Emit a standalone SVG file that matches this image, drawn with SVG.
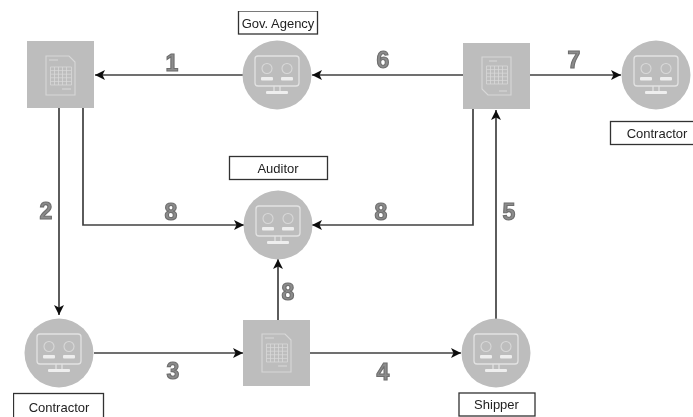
<svg xmlns="http://www.w3.org/2000/svg" width="693" height="417" viewBox="0 0 693 417">
<style>
text{font-family:"Liberation Sans",Arial,sans-serif}
.c{fill:none;stroke:#404040;stroke-width:1.7}
.b{fill:#fff;stroke:#333;stroke-width:1.3}
.l{font-size:13px;fill:#222;text-anchor:middle}
.n{font-size:23px;font-weight:bold;fill:#8c8c8c;stroke:#6e6e6e;stroke-width:1.1;text-anchor:middle}
.i{fill:none;stroke:#e2e2e2;stroke-width:1.3}
.d{fill:none;stroke:#d8d8d8;stroke-width:1.1}
.f{fill:#eee}
.g{fill:#bdbdbd}
</style>
<defs>
<filter id="soft" x="0" y="0" width="100%" height="100%"><feGaussianBlur stdDeviation="0.45"/></filter>
<marker id="a" markerWidth="11" markerHeight="10" refX="10" refY="5" orient="auto" markerUnits="userSpaceOnUse"><path d="M0 0L10 5L0 10L2.500 5Z" fill="#111"/></marker>
<g id="pc">
<circle r="34.500" class="g"/>
<rect x="-22" y="-19" width="44" height="30" rx="3" class="i"/>
<circle cx="-10" cy="-6.500" r="5" class="d"/>
<circle cx="10" cy="-6.500" r="5" class="d"/>
<rect x="-16" y="2" width="12" height="3.500" rx="1" class="f"/>
<rect x="4" y="2" width="12" height="3.500" rx="1" class="f"/>
<path d="M-3 11V16M3 11V16" class="i"/>
<rect x="-11" y="16" width="22" height="3" rx="1" class="f"/>
</g>
<g id="grid" fill="none" stroke="#d8d8d8" stroke-width=".8">
<path d="M-10 -9H11V9H-10ZM-10 -5.400H11M-10 -1.800H11M-10 1.800H11M-10 5.400H11M-6 -9V9M-2 -9V9M2 -9V9M6 -9V9"/>
</g>
</defs>
<rect width="693" height="417" fill="#fff"/>
<g filter="url(#soft)">
<g id="connectors">
<path class="c" d="M245 75H95" marker-end="url(#a)"/>
<path class="c" d="M463 75H312" marker-end="url(#a)"/>
<path class="c" d="M530 75H621" marker-end="url(#a)"/>
<path class="c" d="M59 108V315" marker-end="url(#a)"/>
<path class="c" d="M83 108V225H244" marker-end="url(#a)"/>
<path class="c" d="M473 109V225H312" marker-end="url(#a)"/>
<path class="c" d="M496 319V110" marker-end="url(#a)"/>
<path class="c" d="M94 353H243" marker-end="url(#a)"/>
<path class="c" d="M310 353H461" marker-end="url(#a)"/>
<path class="c" d="M278 320V259" marker-end="url(#a)"/>
</g>
<g id="doc-top-left">
<rect x="27" y="41" width="67" height="67" class="g"/>
<path class="d" d="M46 56H69L75 62V95H46Z"/>
<path class="d" d="M49 60H58"/>
<use href="#grid" transform="translate(60.500 76)"/>
<path class="d" d="M62 89H71"/>
</g>
<g id="doc-top-right">
<rect x="463" y="43" width="67" height="66" class="g"/>
<path class="d" d="M482 57H511V95H488L482 89Z"/>
<path class="d" d="M489 61H497"/>
<use href="#grid" transform="translate(496.500 75)"/>
<path class="d" d="M499 91H507"/>
</g>
<g id="doc-bottom">
<rect x="243" y="320" width="67" height="66" class="g"/>
<path class="d" d="M262 334H285L291 340V372H262Z"/>
<path class="d" d="M265 338H274"/>
<use href="#grid" transform="translate(276.500 353)"/>
<path class="d" d="M278 366H287"/>
</g>
<g id="gov-agency">
<use href="#pc" x="277" y="75"/>
<rect x="238.500" y="11" width="79" height="23" class="b"/>
<text x="278" y="28" class="l">Gov. Agency</text>
</g>
<g id="contractor-right">
<use href="#pc" x="656" y="75"/>
<rect x="610.500" y="121.500" width="85" height="23" class="b"/>
<text x="657" y="138" class="l">Contractor</text>
</g>
<g id="auditor">
<use href="#pc" x="278" y="225"/>
<rect x="229.500" y="156.500" width="98" height="23" class="b"/>
<text x="278" y="173" class="l">Auditor</text>
</g>
<g id="contractor-left">
<use href="#pc" x="59" y="353"/>
<rect x="13.500" y="393.500" width="90" height="26" class="b"/>
<text x="59" y="412" class="l">Contractor</text>
</g>
<g id="shipper">
<use href="#pc" x="496" y="353"/>
<rect x="459" y="393" width="76" height="23" class="b"/>
<text x="496.500" y="409" class="l">Shipper</text>
</g>
<g id="labels">
<text x="172" y="71" class="n">1</text>
<text x="46" y="219" class="n">2</text>
<text x="173" y="379" class="n">3</text>
<text x="383" y="380" class="n">4</text>
<text x="509" y="220" class="n">5</text>
<text x="383" y="68" class="n">6</text>
<text x="574" y="68" class="n">7</text>
<text x="171" y="220" class="n">8</text>
<text x="381" y="220" class="n">8</text>
<text x="288" y="300" class="n">8</text>
</g>
</g>
</svg>
